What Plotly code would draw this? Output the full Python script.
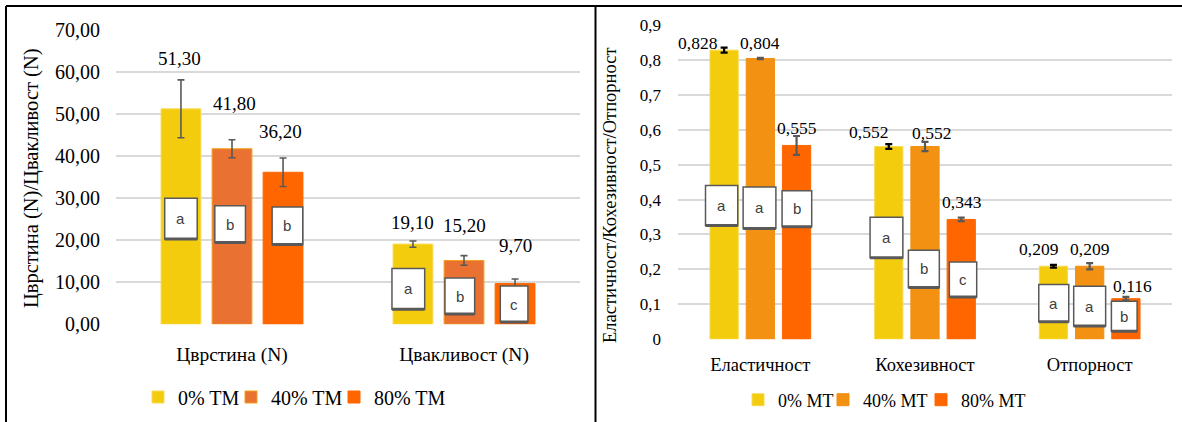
import plotly.graph_objects as go

# ---------------- data ----------------
left_categories = ["Цврстина (N)", "Цвакливост (N)"]
left_series = ["0% TM", "40% TM", "80% TM"]
left_values = [
    [51.30, 19.10],
    [41.80, 15.20],
    [36.20, 9.70],
]
left_errors = [
    [6.9, 0.75],
    [2.15, 1.15],
    [3.4, 1.1],
]
left_letters = [
    ["a", "a"],
    ["b", "b"],
    ["b", "c"],
]
left_ticks = [0, 10, 20, 30, 40, 50, 60, 70]
left_ticktext = ["0,00", "10,00", "20,00", "30,00", "40,00", "50,00", "60,00", "70,00"]

right_categories = ["Еластичност", "Кохезивност", "Отпорност"]
right_series = ["0% MT", "40% MT", "80% MT"]
right_values = [
    [0.828, 0.552, 0.209],
    [0.804, 0.552, 0.209],
    [0.555, 0.343, 0.116],
]
right_errors = [
    [0.007, 0.007, 0.004],
    [0.002, 0.013, 0.009],
    [0.027, 0.005, 0.005],
]
right_letters = [
    ["a", "a", "a"],
    ["a", "b", "a"],
    ["b", "c", "b"],
]
right_ticks = [0, 0.1, 0.2, 0.3, 0.4, 0.5, 0.6, 0.7, 0.8, 0.9]
right_ticktext = ["0", "0,1", "0,2", "0,3", "0,4", "0,5", "0,6", "0,7", "0,8", "0,9"]

# ---------------- styling / placement ----------------
W, H = 1182, 422
SERIF = "Liberation Serif"
SANS = "Liberation Sans"
BARGAP = 0.34
SLOT = (1 - BARGAP) / 3
GRID = "#d9d9d9"
BOX_LINE = "#595959"

left_colors = ["#F4CC0E", "#E97132", "#FF6600"]
left_outline = ["#F7DA55", "#F5A11A", "#FF6600"]
right_colors = ["#F4CC0E", "#F39112", "#FF6600"]
right_outline = ["#F7DA55", "#F39112", "#FF6600"]
left_err_colors = ["#595959", "#595959", "#595959"]
right_err_colors = ["#000000", "#595959", "#595959"]

# legend entry widths (px) per series
left_legend_w = [48, 58, 90]
right_legend_w = [40, 53, 85]

# significance boxes: (low, high) in axis units, centre shift and width in category units
left_box_y = [
    [(20.3, 30.0), (3.6, 13.3)],
    [(19.5, 28.2), (2.45, 11.0)],
    [(19.0, 27.9), (0.55, 9.1)],
]
left_box_dx = [[0.0, -0.020], [-0.008, -0.018], [0.019, -0.004]]
left_box_w = [[0.140, 0.141], [0.132, 0.128], [0.132, 0.119]]

right_box_y = [
    [(0.326, 0.440), (0.233, 0.349), (0.050, 0.157)],
    [(0.317, 0.436), (0.148, 0.255), (0.038, 0.152)],
    [(0.322, 0.425), (0.121, 0.221), (0.023, 0.109)],
]
right_box_dx = [[-0.015, -0.014, 0.002], [-0.005, -0.007, 0.0], [0.002, 0.011, -0.010]]
right_box_w = [[0.196, 0.199, 0.182], [0.199, 0.188, 0.194], [0.180, 0.166, 0.156]]

# value label offsets (px)
left_lab_dy = [[50.5, 21.4], [45.4, 34.5], [40.6, 37.9]]
left_lab_dx = [[-1.5, 0], [2, 0.7], [-2.7, 0.9]]
right_lab_dy = [[7.4, 14.7, 16.9], [15.7, 13.1, 16.9], [17.1, 17.7, 13.0]]
right_lab_dx = [[-26.5, -20.3, -14.7], [0, 6.8, 0], [0, 0.5, 6.4]]


def px_x(p):
    return p / W


def px_y(p):
    return 1 - p / H


fig = go.Figure()

for s in range(3):
    fig.add_trace(go.Bar(
        x=left_categories, y=left_values[s], name=left_series[s],
        marker=dict(color=left_colors[s], line=dict(color=left_outline[s], width=1)),
        error_y=dict(type="data", array=left_errors[s], color=left_err_colors[s],
                     thickness=1.6, width=3.5),
        xaxis="x", yaxis="y", legend="legend", legendwidth=left_legend_w[s],
    ))

for s in range(3):
    fig.add_trace(go.Bar(
        x=right_categories, y=right_values[s], name=right_series[s],
        marker=dict(color=right_colors[s], line=dict(color=right_outline[s], width=1)),
        error_y=dict(type="data", array=right_errors[s], color=right_err_colors[s],
                     thickness=2.2, width=3.5),
        xaxis="x2", yaxis="y2", legend="legend2", legendwidth=right_legend_w[s],
    ))

shapes = []
annotations = []


def add_panel_marks(values, letters, box_y, box_dx, box_w, lab_dy, lab_dx, xref, yref,
                    fmt, lab_size):
    for s in range(3):
        for c, v in enumerate(values[s]):
            xc = c + (s - 1) * SLOT
            # value label
            annotations.append(dict(
                x=xc, y=v, xref=xref, yref=yref, text=fmt(v), showarrow=False,
                xanchor="center", yanchor="middle",
                xshift=lab_dx[s][c], yshift=lab_dy[s][c],
                font=dict(family=SERIF, size=lab_size, color="#000000"),
            ))
            # significance letter box
            lo, hi = box_y[s][c]
            bx = xc + box_dx[s][c]
            hw = box_w[s][c] / 2
            shapes.append(dict(
                type="rect", xref=xref, yref=yref, x0=bx - hw, x1=bx + hw, y0=lo, y1=hi,
                fillcolor="#ffffff", line=dict(color=BOX_LINE, width=1.5), layer="above",
            ))
            shapes.append(dict(
                type="line", xref=xref, yref=yref, x0=bx - hw, x1=bx + hw, y0=lo, y1=lo,
                line=dict(color=BOX_LINE, width=3), layer="above",
            ))
            annotations.append(dict(
                x=bx, y=(lo + hi) / 2, xref=xref, yref=yref, text=letters[s][c],
                showarrow=False, xanchor="center", yanchor="middle",
                font=dict(family=SANS, size=15, color="#404040"),
            ))


add_panel_marks(left_values, left_letters, left_box_y, left_box_dx, left_box_w,
                left_lab_dy, left_lab_dx, "x", "y",
                lambda v: f"{v:.2f}".replace(".", ","), 19)
add_panel_marks(right_values, right_letters, right_box_y, right_box_dx, right_box_w,
                right_lab_dy, right_lab_dx, "x2", "y2",
                lambda v: f"{v:.3f}".replace(".", ","), 17.5)

# axis titles
annotations.append(dict(
    x=px_x(31), y=px_y(178), xref="paper", yref="paper", text="Цврстина (N)/Цвакливост (N)",
    textangle=-90, showarrow=False, xanchor="center", yanchor="middle",
    font=dict(family=SERIF, size=20.5, color="#000000"),
))
annotations.append(dict(
    x=px_x(609.5), y=px_y(195.5), xref="paper", yref="paper",
    text="Еластичност/Кохезивност/Отпорност",
    textangle=-90, showarrow=False, xanchor="center", yanchor="middle",
    font=dict(family=SERIF, size=18.5, color="#000000"),
))

# panel frame
frame = dict(color="#000000", width=2)
shapes += [
    dict(type="line", xref="paper", yref="paper", x0=px_x(6), x1=1, y0=px_y(6), y1=px_y(6), line=frame),
    dict(type="line", xref="paper", yref="paper", x0=px_x(6), x1=px_x(6), y0=0, y1=px_y(6), line=frame),
    dict(type="line", xref="paper", yref="paper", x0=px_x(595.5), x1=px_x(595.5), y0=0, y1=px_y(6), line=frame),
]

fig.update_layout(
    width=W, height=H,
    margin=dict(l=0, r=0, t=0, b=0, autoexpand=False),
    paper_bgcolor="#ffffff", plot_bgcolor="#ffffff",
    font=dict(family=SERIF, color="#000000"),
    barmode="group", bargap=BARGAP, bargroupgap=0.22,
    xaxis=dict(domain=[px_x(116), px_x(580)], range=[-0.5, 1.5], showgrid=False,
               showline=False, ticks="", ticklabelstandoff=16, automargin=False,
               tickfont=dict(family=SERIF, size=19.5, color="#000000")),
    yaxis=dict(domain=[px_y(324.3), px_y(30.3)], range=[0, 70], anchor="x",
               tickvals=left_ticks, ticktext=left_ticktext, showgrid=True,
               gridcolor=GRID, gridwidth=1.5, zeroline=False, showline=False, ticks="",
               ticklabelstandoff=15, automargin=False,
               tickfont=dict(family=SERIF, size=20, color="#000000")),
    xaxis2=dict(domain=[px_x(678), px_x(1172)], range=[-0.5, 2.5], anchor="y2",
                showgrid=False, showline=False, ticks="", ticklabelstandoff=12,
                automargin=False,
                tickfont=dict(family=SERIF, size=18.5, color="#000000")),
    yaxis2=dict(domain=[px_y(339.2), px_y(25)], range=[0, 0.9], anchor="x2",
                tickvals=right_ticks, ticktext=right_ticktext, showgrid=True,
                gridcolor=GRID, gridwidth=1.5, zeroline=False, showline=False, ticks="",
                ticklabelstandoff=16, automargin=False,
                tickfont=dict(family=SERIF, size=17, color="#000000")),
    legend=dict(orientation="h", x=px_x(138), xanchor="left", y=px_y(397), yanchor="middle",
                font=dict(family=SERIF, size=20, color="#000000"),
                bgcolor="rgba(0,0,0,0)", itemwidth=30, tracegroupgap=0),
    legend2=dict(orientation="h", x=px_x(738), xanchor="left", y=px_y(400), yanchor="middle",
                 font=dict(family=SERIF, size=18, color="#000000"),
                 bgcolor="rgba(0,0,0,0)", itemwidth=30, tracegroupgap=0),
    shapes=shapes,
    annotations=annotations,
    showlegend=True,
)

fig.write_html("out.html")
